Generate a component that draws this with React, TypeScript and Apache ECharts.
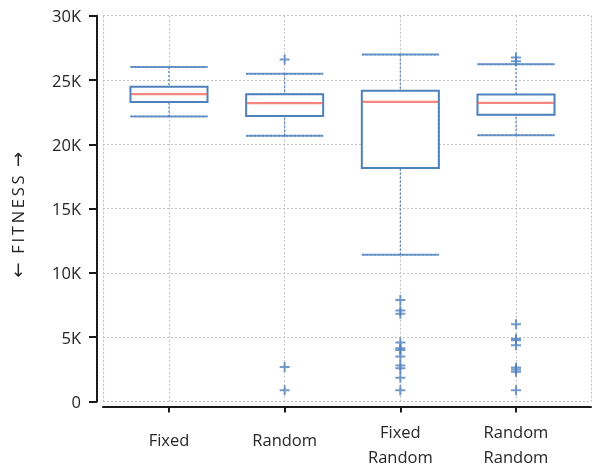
import React, { useEffect, useRef } from 'react';
import * as echarts from 'echarts';

const categories = ['Fixed', 'Random', 'Fixed\nRandom', 'Random\nRandom'];
const whiskerLow = [22170, 20660, 11410, 20710];
const quartile1 = [23280, 22210, 18150, 22290];
const medians = [23900, 23200, 23300, 23220];
const quartile3 = [24470, 23900, 24160, 23870];
const whiskerHigh = [26020, 25480, 26980, 26230];
const outliersFixed: number[] = [];
const outliersRandom = [26600, 2680, 870];
const outliersFixedRandom = [7900, 7080, 6830, 4580, 4150, 4000, 3490, 2790, 2580, 1850, 880];
const outliersRandomRandom = [26750, 26460, 6000, 4880, 4760, 4370, 2640, 2480, 2320, 880];
const outlierGroups = [outliersFixed, outliersRandom, outliersFixedRandom, outliersRandomRandom];

const BLUE = '#4f81bd';
const RED = '#f2695e';
const GRID_C = '#c2c2c2';
const AXIS_C = '#1a1a1a';
const TEXT_C = '#262626';
const FONT = 'Open Sans';
const TOP = 15.7;
const BOTTOM = 67.5;
const PLUS = 'path://M4,0H6V4H10V6H6V10H4V6H0V4H4Z';

export default function App() {
  const ref = useRef<HTMLDivElement>(null);
  useEffect(() => {
    if (!ref.current) return;
    const chart = echarts.init(ref.current, null, { renderer: 'svg' });
    const gridLine = { show: true, lineStyle: { type: [2, 2] as any, color: GRID_C, width: 1.2 } };
    const labelFont = { fontFamily: FONT, fontSize: 16.5, color: TEXT_C };
    const option: any = {
      animation: false,
      textStyle: { fontFamily: FONT },
      grid: [
        { left: 92, right: 1, top: TOP, bottom: BOTTOM },
        { left: 169, right: 76, top: TOP, bottom: BOTTOM },
      ],
      xAxis: [
        {
          gridIndex: 0, type: 'value', min: 0, max: 1, interval: 1, offset: 5,
          axisLine: { show: true, onZero: false, lineStyle: { color: AXIS_C, width: 2 } },
          axisTick: { show: false }, axisLabel: { show: false },
          splitLine: gridLine,
        },
        {
          gridIndex: 1, type: 'category', data: categories, boundaryGap: false, offset: 5,
          axisLine: { show: false, onZero: false },
          axisTick: { show: true, length: 6, lineStyle: { color: AXIS_C, width: 2 } },
          axisLabel: {
            interval: 0, margin: 12.7, ...labelFont,
            formatter: (v: string) =>
              v.indexOf('\n') >= 0
                ? v.split('\n').map((s) => '{m|' + s + '}').join('\n')
                : '{s|' + v + '}',
            rich: {
              m: { ...labelFont, lineHeight: 25 },
              s: { ...labelFont, lineHeight: 40.2 },
            },
          },
          splitLine: gridLine,
        },
        { gridIndex: 1, type: 'category', data: categories, boundaryGap: false, show: false },
      ],
      yAxis: [
        {
          gridIndex: 0, type: 'value', min: 0, max: 30000, interval: 5000, offset: 6,
          axisLine: { show: true, onZero: false, lineStyle: { color: AXIS_C, width: 2 } },
          axisTick: { show: true, length: 8, lineStyle: { color: AXIS_C, width: 2 } },
          axisLabel: {
            margin: 16, ...labelFont,
            formatter: (v: number) => (v === 0 ? '0' : v / 1000 + 'K'),
          },
          splitLine: gridLine,
          name: '{a|\u2190}  F\u2009I\u2009T\u2009N\u2009E\u2009S\u2009S  {a|\u2192}',
          nameLocation: 'middle', nameGap: 71, nameRotate: 90,
          nameTextStyle: {
            ...labelFont,
            padding: [0, 12, 0, 0],
            rich: { a: { fontFamily: 'DejaVu Sans', fontSize: 18, color: TEXT_C } },
          },
        },
        { gridIndex: 1, type: 'value', min: 0, max: 30000, show: false },
      ],
      series: [
        {
          type: 'boxplot', xAxisIndex: 1, yAxisIndex: 1, z: 2,
          data: categories.map((_, i) => [whiskerLow[i], quartile1[i], medians[i], quartile3[i], whiskerHigh[i]]),
          boxWidth: [77, 77],
          itemStyle: { color: 'rgba(0,0,0,0)', borderColor: BLUE, borderWidth: 1.2, borderType: [2, 2] },
        },
        {
          type: 'boxplot', xAxisIndex: 2, yAxisIndex: 1, z: 3,
          data: categories.map((_, i) => [quartile1[i], quartile1[i], quartile1[i], quartile3[i], quartile3[i]]),
          boxWidth: [77, 77],
          itemStyle: { color: '#ffffff', borderColor: BLUE, borderWidth: 2 },
        },
        {
          type: 'scatter', xAxisIndex: 1, yAxisIndex: 1, z: 4,
          symbol: 'rect', symbolSize: [77, 2],
          data: categories.flatMap((_, i) => [[i, whiskerLow[i]], [i, whiskerHigh[i]]]),
          itemStyle: { color: BLUE },
        },
        {
          type: 'scatter', xAxisIndex: 1, yAxisIndex: 1, z: 5,
          symbol: 'rect', symbolSize: [76, 2.4],
          data: categories.map((_, i) => [i, medians[i]]),
          itemStyle: { color: RED },
        },
        {
          type: 'scatter', xAxisIndex: 1, yAxisIndex: 1, z: 5,
          symbol: PLUS, symbolSize: 10,
          data: outlierGroups.flatMap((g, i) => g.map((v) => [i, v])),
          itemStyle: { color: BLUE },
        },
      ],
    };
    chart.setOption(option);
    return () => chart.dispose();
  }, []);
  return <div ref={ref} style={{ position: 'fixed', left: 0, top: 0, width: 592, height: 469 }} />;
}
